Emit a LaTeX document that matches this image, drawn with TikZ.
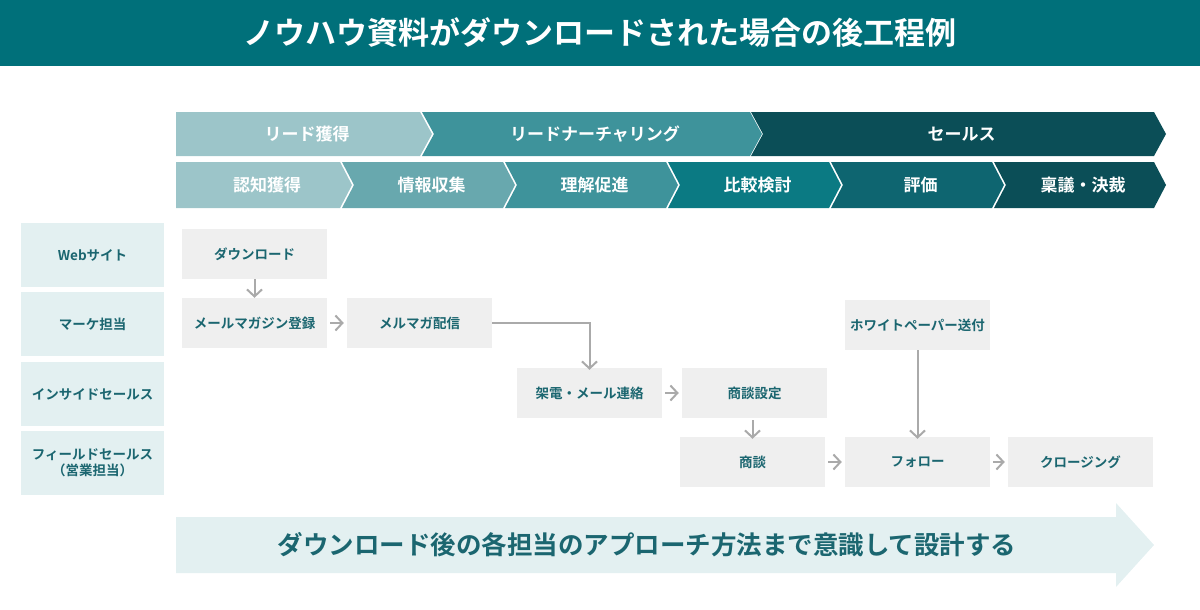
\documentclass[tikz,border=0pt]{standalone}
\usepackage{fontspec}
\setmainfont{Noto Sans CJK JP}[BoldFont={Noto Sans CJK JP Bold}]
\usetikzlibrary{arrows.meta, positioning}
\definecolor{titleteal}{RGB}{0,112,122}
\definecolor{labelteal}{RGB}{27,102,112}
\definecolor{laneback}{RGB}{227,240,241}
\definecolor{stepgray}{RGB}{239,239,239}
\definecolor{flowgray}{RGB}{170,170,170}
\definecolor{phaseA}{RGB}{156,197,201}
\definecolor{phaseB}{RGB}{104,168,174}
\definecolor{phaseC}{RGB}{62,147,155}
\definecolor{phaseD}{RGB}{11,122,131}
\definecolor{phaseE}{RGB}{14,101,112}
\definecolor{phaseF}{RGB}{11,78,87}

\tikzset{
  lane/.style={fill=laneback, minimum width=143pt, minimum height=64pt, inner sep=0pt,
    font=\bfseries\fontsize{13.5}{16}\selectfont, text=labelteal, align=center},
  stepbox/.style={fill=stepgray, minimum width=145pt, minimum height=50pt, inner sep=0pt,
    font=\bfseries\fontsize{13.5}{16}\selectfont, text=labelteal},
  flow/.style={draw=flowgray, line width=2pt, -{Straight Barb[length=7pt,width=15pt]}},
}

% chevron: #1 left x, #2 right x, #3 top y, #4 bottom y, #5 colour, #6 name, #7 text, #8 notch?
\newcommand{\chevron}[8]{%
  \fill[#5] (#1,#3) -- (#2-12,#3) -- (#2,#3/2+#4/2) -- (#2-12,#4) -- (#1,#4)
    \ifnum#8=1 -- (#1+12,#3/2+#4/2)\fi -- cycle;
  \node[text=white, font=\bfseries\fontsize{17}{20}\selectfont] (#6) at (#1/2+#2/2+3,#3/2+#4/2) {#7};
}

\begin{document}
\begin{tikzpicture}[x=1pt, y=-1pt]
    \useasboundingbox (0,0) rectangle (1200,610);

    % Title
    \fill[titleteal] (0,0) rectangle (1200,66);
    \node[text=white, font=\bfseries\fontsize{31}{35}\selectfont] (title) at (600,33)
      {ノウハウ資料がダウンロードされた場合の後工程例};

    % Phases
    \chevron{176}{432}{112}{156}{phaseA}{pA}{リード獲得}{0}
    \chevron{422}{762}{112}{156}{phaseC}{pB}{リードナーチャリング}{1}
    \chevron{751}{1166}{112}{156}{phaseF}{pC}{セールス}{1}

    % Steps
    \chevron{176}{352}{162}{208}{phaseA}{sA}{認知獲得}{0}
    \chevron{342}{515}{162}{208}{phaseB}{sB}{情報収集}{1}
    \chevron{505}{678}{162}{208}{phaseC}{sC}{理解促進}{1}
    \chevron{668}{841}{162}{208}{phaseD}{sD}{比較検討}{1}
    \chevron{831}{1004}{162}{208}{phaseE}{sE}{評価}{1}
    \chevron{994}{1166}{162}{208}{phaseF}{sF}{稟議・決裁}{1}

    % Lanes
    \node[lane] (web)   at (92.5,255) {Webサイト};
    \node[lane] (mkt)   at (92.5,324) {マーケ担当};
    \node[lane] (is)    at (92.5,394) {インサイドセールス};
    \node[lane] (fs)    at (92.5,463) {フィールドセールス\\（営業担当）};

    % Steps in lanes
    \node[stepbox] (dl)     at (254.5,254) {ダウンロード};
    \node[stepbox] (reg)    at (254.5,323) {メールマガジン登録};
    \node[stepbox] (mag)    at (419.5,323) {メルマガ配信};
    \node[stepbox] (call)   at (589.5,393) {架電・メール連絡};
    \node[stepbox] (appt)   at (754.5,393) {商談設定};
    \node[stepbox] (wp)     at (917.5,325) {ホワイトペーパー送付};
    \node[stepbox] (deal)   at (752.5,462) {商談};
    \node[stepbox] (follow) at (917.5,462) {フォロー};
    \node[stepbox] (close)  at (1080.5,462) {クロージング};

    % Connectors
    \draw[flow] (dl) -- (reg);
    \draw[flow] (reg.east) ++(3,0) -- ([xshift=-3pt]mag.west);
    \draw[flow] (mag.east) -| ([yshift=-2pt]call.north);
    \draw[flow] (call.east) ++(3,0) -- ([xshift=-3pt]appt.west);
    \draw[flow] ([xshift=-2pt]appt.south) ++(0,2) -- ([xshift=0pt,yshift=-2pt]deal.north);
    \draw[flow] (deal.east) ++(3,0) -- ([xshift=-3pt]follow.west);
    \draw[flow] (wp) -- ([yshift=-2pt]follow.north);
    \draw[flow] (follow.east) ++(3,0) -- ([xshift=-3pt]close.west);

    % Bottom message
    \fill[laneback] (176,517) -- (1116,517) -- (1116,503) -- (1154,545) -- (1116,587)
      -- (1116,573) -- (176,573) -- cycle;
    \node[text=labelteal, font=\bfseries\fontsize{25.5}{28}\selectfont] (msg) at (647,545)
      {ダウンロード後の各担当のアプローチ方法まで意識して設計する};
\end{tikzpicture}
\end{document}
